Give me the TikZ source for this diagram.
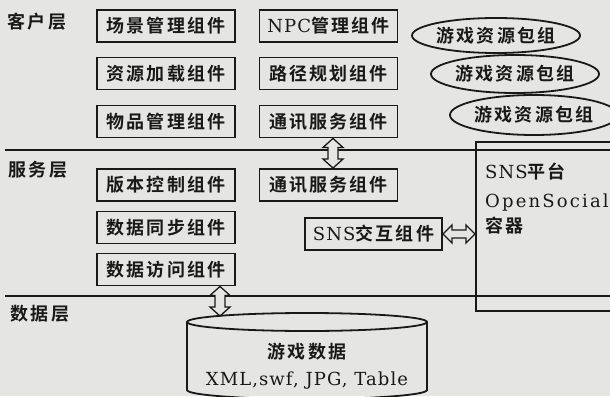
\documentclass[tikz,border=0pt]{standalone}
\usepackage{fontspec}
\setmainfont{DejaVu Serif}
\newfontfamily\cjk[LetterSpace=12,BoldFont={Noto Sans CJK SC Bold}]{Noto Sans CJK SC}
\newfontfamily\lat[LetterSpace=6]{DejaVu Serif}
\newfontfamily\latw[LetterSpace=12]{DejaVu Serif}
\newcommand{\zh}{\cjk\bfseries}
\newcommand{\en}{\fontsize{18}{18}\selectfont\lat}
\usetikzlibrary{shapes.geometric,calc}
\definecolor{bg}{RGB}{229,229,227}
\definecolor{ink}{RGB}{25,25,25}
\tikzset{
  comp/.style={draw=ink, line width=1.9pt, minimum width=138pt, minimum height=32pt, inner sep=0pt},
  grp/.style={draw=ink, ellipse, line width=1.8pt, inner sep=0pt},
  layer/.style={draw=ink, line width=1.8pt},
  dblarrow/.style={draw=ink, line width=1.3pt, fill=bg, line join=miter},
  lbl/.style={inner sep=0pt, text=ink},
}
\newcommand{\vdbl}[2]{%
  \path[dblarrow] let \p1=(#1), \p2=(#2) in
    (\x1,\y1) -- (\x1+10pt,\y1-9pt) -- (\x1+5pt,\y1-9pt) -- (\x1+5pt,\y2+9pt)
    -- (\x1+10pt,\y2+9pt) -- (\x1,\y2) -- (\x1-10pt,\y2+9pt) -- (\x1-5pt,\y2+9pt)
    -- (\x1-5pt,\y1-9pt) -- (\x1-10pt,\y1-9pt) -- cycle;}
\newcommand{\hdbl}[2]{%
  \path[dblarrow] let \p1=(#1), \p2=(#2) in
    (\x1,\y1) -- (\x1+9pt,\y1+9pt) -- (\x1+9pt,\y1+4pt) -- (\x2-9pt,\y1+4pt)
    -- (\x2-9pt,\y1+9pt) -- (\x2,\y1) -- (\x2-9pt,\y1-9pt) -- (\x2-9pt,\y1-4pt)
    -- (\x1+9pt,\y1-4pt) -- (\x1+9pt,\y1-9pt) -- cycle;}
\begin{document}
\begin{tikzpicture}[x=1pt,y=-1pt, font=\fontsize{18}{18}\selectfont, text=ink]
\fill[bg] (0,0) rectangle (610,396);
\useasboundingbox (0,0) rectangle (610,396);
\clip (0,0) rectangle (610,396);

% layer separators
\draw[layer] (5,150) -- (616,150);
\draw[layer] (5,296) -- (616,296);

% layer labels
\node[lbl] (lc) at (37,22) {\zh 客户层};
\node[lbl] (ls) at (38,170) {\zh 服务层};
\node[lbl] (ld) at (40,314) {\zh 数据层};

% client components
\node[comp] (scene) at (166,26)  {\zh 场景管理组件};
\node[comp] (res)   at (166,73.5) {\zh 资源加载组件};
\node[comp] (item)  at (166,121.5) {\zh 物品管理组件};
\node[comp] (npc)   at (328.5,26) {{\en NPC}{\zh 管理组件}};
\node[comp] (path)  at (328.5,73.5) {\zh 路径规划组件};
\node[comp] (comc)  at (328.5,121.5) {\zh 通讯服务组件};

% service components
\node[comp] (ver)   at (166,185) {\zh 版本控制组件};
\node[comp] (sync)  at (166,227.5) {\zh 数据同步组件};
\node[comp] (acc)   at (166,269.5) {\zh 数据访问组件};
\node[comp] (coms)  at (328.5,185) {\zh 通讯服务组件};
\node[comp, minimum width=137pt] (snsi) at (373.5,234) {{\en SNS}{\zh 交互组件}};

% resource groups
\node[grp, minimum width=157pt, minimum height=35pt] (g1) at (496,35.5) {\zh 游戏资源包组};
\node[grp, minimum width=155pt, minimum height=38pt] (g2) at (515,74) {\zh 游戏资源包组};
\node[grp, minimum width=153pt, minimum height=40pt] (g3) at (534,115) {\zh 游戏资源包组};

% SNS platform
\node[draw=ink, line width=1.9pt, minimum width=141pt, minimum height=169pt, anchor=north west, inner sep=0pt] (sns) at (475,141) {};
\node[lbl, anchor=west] (sns1) at (485,172) {{\en SNS}{\zh 平台}};
\node[lbl, anchor=west] (sns2) at (485,203) {\fontsize{18}{18}\selectfont\latw OpenSocial};
\node[lbl, anchor=west] (sns3) at (485,226) {\zh 容器};

% database cylinder
\draw[ink, line width=1.8pt] (187,322) -- (187,390) arc[start angle=180, end angle=0, x radius=120, y radius=9] -- (427,322);
\draw[ink, line width=1.8pt, fill=bg] (307,322) ellipse[x radius=120, y radius=9];
\coordinate (dbtop) at (220,316);
\node[lbl] (dbt) at (307,352) {\zh 游戏数据};
\node[lbl] (dbf) at (307,381) {\en XML,swf, JPG, Table};

% arrows
\coordinate (a1t) at ($(comc.south)+(4.5,0)$);
\coordinate (a1b) at ($(coms.north)+(4.5,0)$);
\vdbl{a1t}{a1b}
\coordinate (a2t) at (acc.south -| dbtop);
\vdbl{a2t}{dbtop}
\coordinate (a3l) at (snsi.east);
\coordinate (a3r) at (sns.west |- snsi.east);
\hdbl{a3l}{a3r}
\end{tikzpicture}
\end{document}
